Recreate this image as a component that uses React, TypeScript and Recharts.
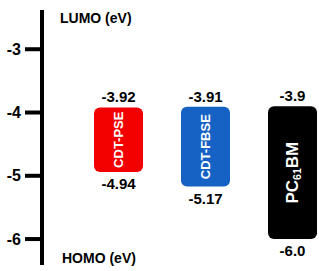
import React from 'react';
import { ComposedChart, Bar, XAxis, YAxis } from 'recharts';

const materials = ['CDT-PSE', 'CDT-FBSE', 'PC61BM'];
const lumo = [-3.92, -3.91, -3.9];
const homo = [-4.94, -5.17, -6.0];
const lumoLabels = ['-3.92', '-3.91', '-3.9'];
const homoLabels = ['-4.94', '-5.17', '-6.0'];
const energyTicks = [-3, -4, -5, -6];

const barColors = ['#f20000', '#1662c4', '#000000'];
const nameSizes = [13, 13, 17];
const FONT = '"Liberation Sans", Arial, sans-serif';

const data = materials.map((name, i) => ({
  name,
  lumo: lumo[i],
  homo: homo[i],
  lumoLabel: lumoLabels[i],
  homoLabel: homoLabels[i],
}));

// rounded rect + value labels + rotated name inside
const LevelBar = (props: any) => {
  const { x, y, width, height, payload } = props;
  const i = materials.indexOf(payload.name);
  const top = Math.min(y, y + height);
  const h = Math.abs(height);
  const cx = x + width / 2;
  const cy = top + h / 2;
  const size = nameSizes[i];
  const m = payload.name.match(/^(\D+)(\d+)(\D+)$/);
  return (
    <g>
      <rect x={x} y={top} width={width} height={h} rx={6} ry={6} fill={barColors[i]} />
      <text x={cx} y={top - 5} textAnchor="middle" fontSize={15} fontWeight="bold" fontFamily={FONT} fill="#000">
        {payload.lumoLabel}
      </text>
      <text x={cx} y={top + h + 17} textAnchor="middle" fontSize={15} fontWeight="bold" fontFamily={FONT} fill="#000">
        {payload.homoLabel}
      </text>
      <text
        x={cx}
        y={cy}
        transform={`rotate(-90, ${cx}, ${cy})`}
        textAnchor="middle"
        dy="0.35em"
        fontSize={size}
        fontWeight="bold"
        fontFamily={FONT}
        fill="#fff"
      >
        {m ? (
          <>
            <tspan>{m[1]}</tspan>
            <tspan fontSize={size * 0.62} dy={3}>{m[2]}</tspan>
            <tspan dy={-3}>{m[3]}</tspan>
          </>
        ) : (
          payload.name
        )}
      </text>
    </g>
  );
};

export default function App() {
  return (
    <div style={{ position: 'absolute', left: 0, top: 0, width: 319, height: 271, background: '#fff' }}>
      <ComposedChart width={319} height={271} data={data} margin={{ top: 10, right: 0, bottom: 6, left: 0 }}>
        <XAxis dataKey="name" type="category" hide padding={{ left: 33, right: -17 }} />
        <YAxis
          type="number"
          domain={[-6.41, -2.38]}
          ticks={energyTicks}
          allowDataOverflow
          width={42}
          tickSize={17}
          tickMargin={4}
          axisLine={{ stroke: '#000', strokeWidth: 4 }}
          tickLine={{ stroke: '#000', strokeWidth: 4 }}
          tick={{ fill: '#000', fontSize: 16, fontWeight: 'bold', fontFamily: FONT }}
        />
        <Bar
          dataKey={(d: any) => [d.homo, d.lumo]}
          barSize={49}
          shape={LevelBar}
          isAnimationActive={false}
        />
      </ComposedChart>
      <svg width={319} height={271} style={{ position: 'absolute', left: 0, top: 0, pointerEvents: 'none' }}>
        <text x={60} y={23} fontSize={14} fontWeight="bold" fontFamily={FONT} fill="#000">LUMO (eV)</text>
        <text x={62} y={263} fontSize={14} fontWeight="bold" fontFamily={FONT} fill="#000">HOMO (eV)</text>
      </svg>
    </div>
  );
}
